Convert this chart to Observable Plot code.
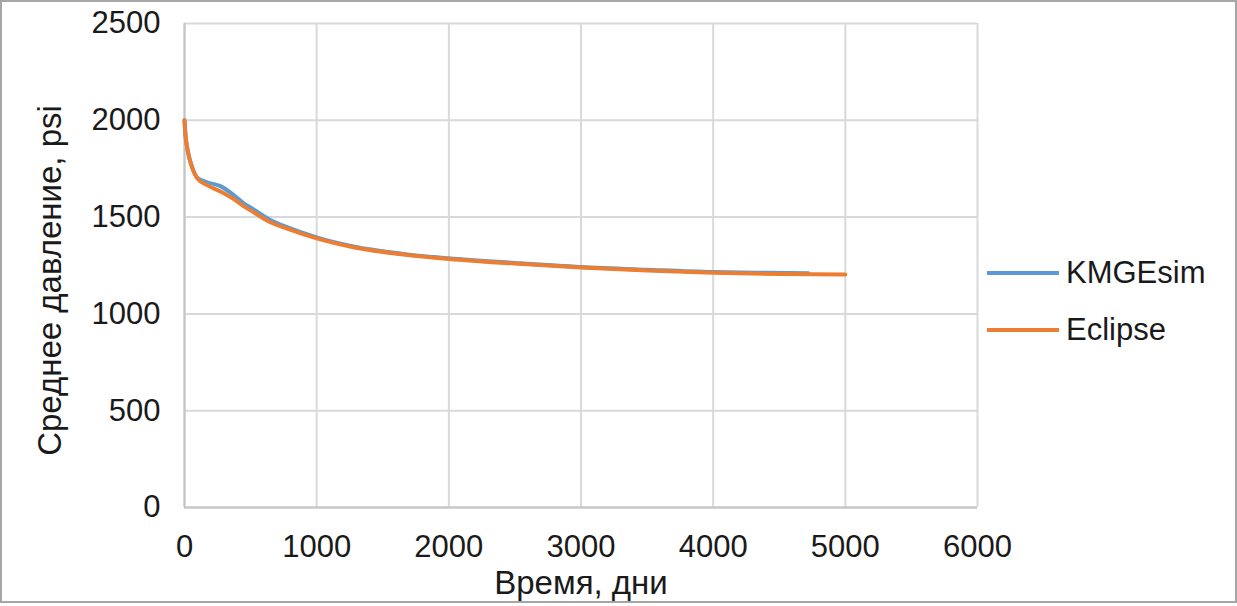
<!DOCTYPE html>
<html>
<head>
<meta charset="utf-8">
<script src="https://cdn.jsdelivr.net/npm/d3@7"></script>
<script src="https://cdn.jsdelivr.net/npm/@observablehq/plot@0.6"></script>
<style>
  html, body { margin: 0; padding: 0; background: #fff; }
  #wrap { position: relative; width: 1237px; height: 606px; overflow: hidden; font-family: "Liberation Sans", Arial, sans-serif; }
  #border { position: absolute; left: 0; top: 0; width: 1233px; height: 599px; border: 2px solid #a6a6a6; pointer-events: none; }
  #legend { position: absolute; left: 987px; top: 244px; font-size: 31px; color: #1a1a1a; }
  .item { display: flex; align-items: center; height: 57px; }
  .swatch { width: 72px; height: 4px; margin-right: 7px; }
</style>
</head>
<body>
<div id="wrap">
  <div id="chart"></div>
  <div id="legend"></div>
  <div id="border"></div>
</div>
<script>
const seriesNames = ["KMGEsim", "Eclipse"];
const seriesColors = ["#5B9BD5", "#ED7D31"];

const kmgTime = [0, 8, 20, 38, 60, 96, 171, 272, 370, 450, 523, 650, 776, 1000, 1278, 1655, 2000, 2500, 3000, 3500, 4000, 4400, 4720];
const kmgPressure = [2000, 1920, 1860, 1802, 1754, 1704, 1680, 1660, 1615, 1570, 1540, 1485, 1448, 1395, 1348, 1310, 1287, 1263, 1242, 1228, 1216, 1212, 1210];

const eclTime = [0, 8, 20, 38, 60, 96, 171, 272, 370, 450, 523, 650, 776, 1000, 1278, 1655, 2000, 2500, 3000, 3500, 4000, 4500, 5000];
const eclPressure = [2000, 1920, 1860, 1800, 1750, 1700, 1665, 1632, 1594, 1555, 1525, 1473, 1440, 1390, 1344, 1307, 1284, 1260, 1240, 1224, 1212, 1206, 1203];

const xTicks = [0, 1000, 2000, 3000, 4000, 5000, 6000];
const yTicks = [0, 500, 1000, 1500, 2000, 2500];

const xTitle = "Время, дни";
const yTitle = "Среднее давление, psi";

const kmg = kmgTime.map((t, i) => ({t, p: kmgPressure[i]}));
const ecl = eclTime.map((t, i) => ({t, p: eclPressure[i]}));

const chart = Plot.plot({
  width: 1237,
  height: 606,
  marginLeft: 184,
  marginRight: 260,
  marginTop: 23,
  marginBottom: 99,
  style: {fontFamily: "'Liberation Sans', Arial, sans-serif", fontSize: "31px", color: "#1a1a1a", background: "transparent"},
  x: {domain: [0, 6000], ticks: xTicks},
  y: {domain: [0, 2500], ticks: yTicks},
  marks: [
    Plot.gridX(xTicks, {stroke: "#d9d9d9", strokeOpacity: 1, strokeWidth: 2}),
    Plot.gridY(yTicks, {stroke: "#d9d9d9", strokeOpacity: 1, strokeWidth: 2}),
    Plot.ruleX([0], {stroke: "#c4c4c4", strokeWidth: 2}),
    Plot.ruleY([0], {stroke: "#c4c4c4", strokeWidth: 2}),
    Plot.axisX({ticks: xTicks, tickSize: 0, tickPadding: 27, fontSize: 31, tickFormat: d3.format("d"), label: null}),
    Plot.axisY({ticks: yTicks, tickSize: 0, tickPadding: 24, fontSize: 31, tickFormat: d3.format("d"), label: null}),
    Plot.text([xTitle], {frameAnchor: "bottom", textAnchor: "middle", lineAnchor: "middle", dy: 76, fontSize: 33, fill: "#1a1a1a", text: d => d}),
    Plot.text([yTitle], {frameAnchor: "left", textAnchor: "middle", lineAnchor: "middle", rotate: -90, dx: -134, dy: 15, fontSize: 33, fill: "#1a1a1a", text: d => d}),
    Plot.line(kmg, {x: "t", y: "p", stroke: seriesColors[0], strokeWidth: 4, curve: "monotone-x"}),
    Plot.line(ecl, {x: "t", y: "p", stroke: seriesColors[1], strokeWidth: 4, curve: "monotone-x"})
  ]
});
document.getElementById("chart").appendChild(chart);

const legend = document.getElementById("legend");
seriesNames.forEach((name, i) => {
  const item = document.createElement("div");
  item.className = "item";
  const sw = document.createElement("div");
  sw.className = "swatch";
  sw.style.background = seriesColors[i];
  const label = document.createElement("span");
  label.textContent = name;
  item.appendChild(sw);
  item.appendChild(label);
  legend.appendChild(item);
});
</script>
</body>
</html>
